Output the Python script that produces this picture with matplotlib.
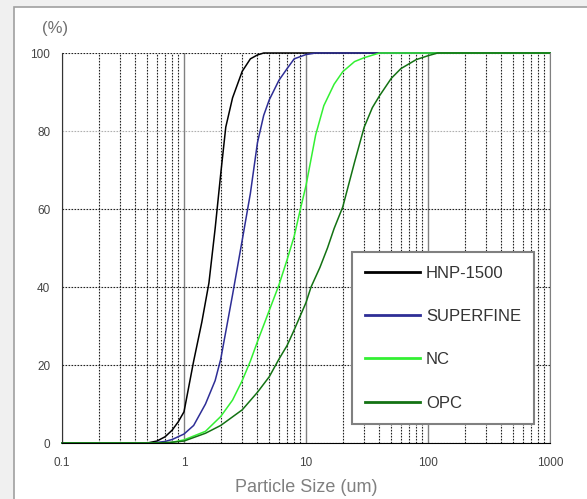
import numpy as np
import matplotlib
matplotlib.use("Agg")
import matplotlib.pyplot as plt
from matplotlib.patches import Rectangle
from matplotlib.ticker import LogLocator, FixedLocator, NullFormatter

plt.rcParams['font.family'] = ['Liberation Sans', 'DejaVu Sans']

# cumulative passing (%)
hnp_size = [0.1, 0.5, 0.6, 0.7, 0.8, 0.9, 1.0, 1.2, 1.4, 1.6, 1.8, 2.0, 2.2, 2.5, 3.0, 3.5, 4.0, 4.5, 1000]
hnp_pct = [0, 0, 0.5, 1.6, 3.3, 5.5, 8, 21, 31, 41, 55, 69, 81, 88.5, 95.3, 98.5, 99.5, 100, 100]

sf_size = [0.1, 0.55, 0.7, 0.8, 1.0, 1.2, 1.5, 1.8, 2.0, 2.5, 3.0, 3.5, 4.0, 4.5, 5.0, 6.0, 7.0, 8.0, 10, 12, 1000]
sf_pct = [0, 0, 0.4, 0.9, 2.3, 4.5, 10, 16, 21.5, 38, 52, 64, 77, 84, 88, 93, 96, 98.5, 99.6, 100, 100]

nc_size = [0.1, 0.75, 1.0, 1.5, 2.0, 2.5, 3.0, 3.5, 4.0, 5.0, 6.0, 7.0, 8.0, 9.0, 10, 12, 14, 17, 20, 25, 30, 40, 1000]
nc_pct = [0, 0, 0.8, 3, 6.8, 11, 16, 21, 26, 34, 40.5, 47, 53, 60, 66, 79, 86.5, 92, 95.2, 97.8, 98.8, 100, 100]

opc_size = [0.1, 0.6, 0.8, 1.0, 1.5, 2.0, 3.0, 4.0, 5.0, 6.0, 7.0, 8.0, 10, 11, 13, 15, 17, 20, 25, 30, 35, 40, 50, 60, 80, 100, 120, 1000]
opc_pct = [0, 0, 0.2, 0.5, 2.5, 4.5, 8.5, 13, 17, 21.5, 25, 29, 36, 40, 45, 50, 55, 60.5, 72, 81, 86, 89, 93.5, 96, 98.3, 99.3, 100, 100]

names = ['HNP-1500', 'SUPERFINE', 'NC', 'OPC']
colors = ['#000000', '#2e2e96', '#33f033', '#137213']

fig = plt.figure(figsize=(5.87, 4.99), dpi=100)
fig.patch.set_facecolor('#f0f0f0')
# white panel behind the chart
panel = Rectangle((14 / 587, -0.01), 1, 1.01 - 7 / 499, transform=fig.transFigure,
                  facecolor='white', edgecolor='#a0a0a0', linewidth=1.2, zorder=-5)
fig.add_artist(panel)

ax = fig.add_axes([62 / 587, 56 / 499, 488 / 587, 390 / 499])
ax.set_facecolor('white')
ax.set_xscale('log')
ax.set_xlim(0.1, 1000)
ax.set_ylim(0, 100)

dot = (0, (1.5, 1.2))
# vertical grid: dotted minors, solid grey decades
ax.xaxis.set_major_locator(FixedLocator([0.1, 1, 10, 100, 1000]))
ax.xaxis.set_minor_locator(LogLocator(base=10, subs=np.arange(2, 10), numticks=20))
ax.xaxis.set_minor_formatter(NullFormatter())
ax.set_xticks([0.1, 1, 10, 100, 1000], ['0.1', '1', '10', '100', '1000'])
ax.grid(which='minor', axis='x', color='#222222', linestyle=dot, linewidth=0.8)
ax.grid(which='major', axis='x', color='#808080', linestyle='-', linewidth=1.0)

ax.set_yticks([0, 20, 40, 60, 80, 100])
ax.grid(which='major', axis='y', color='#222222', linestyle=dot, linewidth=0.8)
for val, gl in zip([0, 20, 40, 60, 80, 100], ax.yaxis.get_gridlines()):
    if val == 80:
        gl.set_color('#b0b0b0')
ax.set_axisbelow(True)

ax.tick_params(which='both', length=0, labelsize=8.5, labelcolor='#444444')
ax.tick_params(axis='x', pad=10)
ax.tick_params(axis='y', pad=8.5)

ax.spines['top'].set_visible(False)
ax.spines['left'].set_color('#333333')
ax.spines['right'].set_color('#808080')
ax.spines['bottom'].set_color('#000000')

series = [(hnp_size, hnp_pct), (sf_size, sf_pct), (nc_size, nc_pct), (opc_size, opc_pct)]
for (xs, ys), name, c in zip(series, names, colors):
    ax.plot(xs, ys, color=c, linewidth=1.1, label=name, clip_on=False)

leg = ax.legend(loc='upper left', bbox_to_anchor=(0.594, 0.489), fontsize=12,
                frameon=True, fancybox=False, edgecolor='#808080', framealpha=1,
                handlelength=3.3, handletextpad=0.35, labelspacing=1.7,
                borderpad=0.8, borderaxespad=0)
leg.get_frame().set_linewidth(1.5)
for t in leg.get_texts():
    t.set_color('#333333')
for h in leg.get_lines():
    h.set_linewidth(2.0)

ax.set_xlabel('Particle Size (um)', fontsize=13, color='#808080', labelpad=7)
fig.text(42 / 587, 1 - 28 / 499, '(%)', fontsize=12, color='#707070', va='center', ha='left')

fig.savefig('out.png', dpi=100, facecolor=fig.get_facecolor())
